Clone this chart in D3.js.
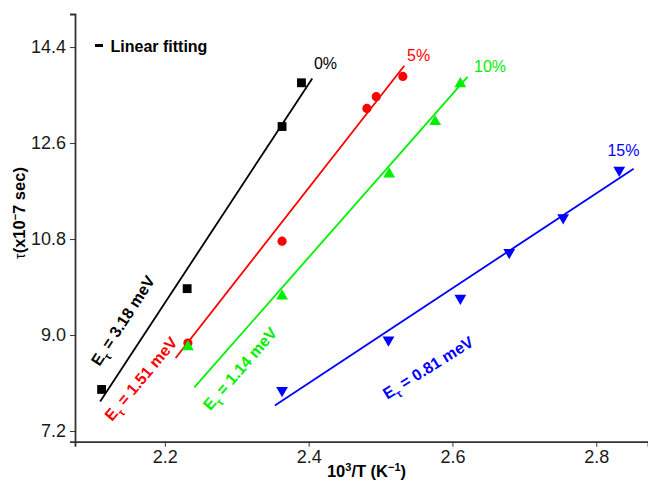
<!DOCTYPE html>
<html><head><meta charset="utf-8">
<script src="https://cdn.jsdelivr.net/npm/d3@7"></script>
<style>
body{margin:0;background:#fff;}
svg{display:block;font-family:"Liberation Sans",Arial,sans-serif;}
</style></head>
<body><svg id="c" width="648" height="489"></svg>
<script>
// ---- data ----
const seriesNames = ["0%", "5%", "10%", "15%"];
const seriesColors = ["#000000", "#ff0000", "#00f000", "#0000ff"];
const seriesShapes = ["square", "circle", "triangleUp", "triangleDown"];
const x0 = [2.112, 2.231, 2.363, 2.390];
const y0 = [7.98, 9.87, 12.91, 13.73];
const x5 = [2.232, 2.363, 2.481, 2.494, 2.531];
const y5 = [8.85, 10.76, 13.25, 13.47, 13.85];
const x10 = [2.232, 2.363, 2.512, 2.576, 2.611];
const y10 = [8.78, 9.73, 12.02, 13.00, 13.71];
const x15 = [2.363, 2.511, 2.611, 2.679, 2.754, 2.832];
const y15 = [7.96, 8.91, 9.69, 10.55, 11.20, 12.09];
// linear-fit end points
const fitX = [[2.110, 2.405], [2.215, 2.533], [2.241, 2.621], [2.353, 2.852]];
const fitY = [[7.755, 13.81], [8.57, 14.05], [8.02, 13.84], [7.68, 12.12]];
// series label anchors (data units)
const labelX = [2.4074, 2.5368, 2.6300, 2.8155];
const labelY = [13.98, 14.134, 13.935, 12.352];
// activation energy annotations
const energyText = ["3.18 meV", "1.51 meV", "1.14 meV", "0.81 meV"];
const energyX = [2.1415, 2.1666, 2.3043, 2.566];
const energyY = [9.27, 8.18, 8.37, 8.39];
const energyAngle = [-57, -50, -49, -32];
const xTicks = [2.2, 2.4, 2.6, 2.8];
const yTicks = [7.2, 9.0, 10.8, 12.6, 14.4];

const xsAll = [x0, x5, x10, x15], ysAll = [y0, y5, y10, y15];

const svg = d3.select("#c");
const x = d3.scaleLinear().domain([2.075, 2.872]).range([75, 648]);
const y = d3.scaleLinear().domain([7.0, 15.02]).range([441.7, 14]);

// axes
const axCol = "#333";
const gx = svg.append("g").attr("transform", "translate(0,441.7)")
  .call(d3.axisBottom(x).tickValues(xTicks).tickFormat(d3.format(".1f")).tickSizeOuter(0).tickSize(5).tickPadding(4));
const gy = svg.append("g").attr("transform", "translate(75,0)")
  .call(d3.axisLeft(y).tickValues(yTicks).tickFormat(d3.format(".1f")).tickSizeOuter(0).tickSize(5).tickPadding(4));
[gx, gy].forEach(g => {
  g.select(".domain").attr("stroke", axCol).attr("stroke-width", 1.8);
  g.selectAll(".tick line").attr("stroke", axCol).attr("stroke-width", 1);
  g.selectAll(".tick text").attr("fill", "#1a1a1a").style("font-size", "18px")
    .style("font-family", "Liberation Sans, Arial, sans-serif");
});

// fit lines
const line = d3.line().x(d => x(d[0])).y(d => y(d[1]));
fitX.forEach((fx, i) => {
  svg.append("path").datum(fx.map((v, j) => [v, fitY[i][j]]))
    .attr("d", line).attr("fill", "none").attr("stroke", seriesColors[i]).attr("stroke-width", 1.8);
});

// markers
const symMap = {square: d3.symbolSquare, circle: d3.symbolCircle, triangleUp: d3.symbolTriangle, triangleDown: d3.symbolTriangle};
const symSize = {square: 78, circle: 66, triangleUp: 60, triangleDown: 60};
xsAll.forEach((xs, i) => {
  const shp = seriesShapes[i];
  const sym = d3.symbol().type(symMap[shp]).size(symSize[shp]);
  svg.append("g").selectAll("path").data(xs.map((v, j) => [v, ysAll[i][j]])).join("path")
    .attr("d", sym)
    .attr("transform", d => `translate(${x(d[0])},${y(d[1])})` + (shp === "triangleDown" ? " rotate(180)" : ""))
    .attr("fill", seriesColors[i]);
});

// series labels
seriesNames.forEach((n, i) => {
  svg.append("text").attr("x", x(labelX[i])).attr("y", y(labelY[i]))
    .attr("fill", seriesColors[i]).style("font-size", "16px").text(n);
});

// energy annotations
energyText.forEach((t, i) => {
  const tx = svg.append("text")
    .attr("transform", `translate(${x(energyX[i])},${y(energyY[i])}) rotate(${energyAngle[i]})`)
    .attr("text-anchor", "middle").attr("dy", "0.35em")
    .attr("fill", seriesColors[i]).style("font-size", "16px").style("font-weight", "bold");
  tx.append("tspan").text("E");
  tx.append("tspan").attr("dy", "5").style("font-size", "11px").text("τ");
  tx.append("tspan").attr("dy", "-5").text(" = " + t);
});

// legend
svg.append("line").attr("x1", 95).attr("x2", 103).attr("y1", 45.5).attr("y2", 45.5)
  .attr("stroke", "#000").attr("stroke-width", 3);
svg.append("text").attr("x", 110.5).attr("y", 52).style("font-size", "16px").style("font-weight", "bold")
  .attr("fill", "#000").text("Linear fitting");

// axis titles
const xt = svg.append("text").attr("x", 366.5).attr("y", 477).attr("text-anchor", "middle")
  .style("font-size", "16.5px").style("font-weight", "bold").attr("fill", "#000");
xt.append("tspan").text("10");
xt.append("tspan").attr("dy", "-6").style("font-size", "11px").text("3");
xt.append("tspan").attr("dy", "6").text("/T (K");
xt.append("tspan").attr("dy", "-6").style("font-size", "11px").text("−1");
xt.append("tspan").attr("dy", "6").text(")");

const yt = svg.append("text").attr("transform", "translate(25,213) rotate(-90)").attr("text-anchor", "middle")
  .style("font-size", "16.5px").style("font-weight", "bold").attr("fill", "#000");
yt.append("tspan").style("font-weight", "normal").style("font-size", "14px").text("τ");
yt.append("tspan").text("(x10");
yt.append("tspan").attr("dy", "-6").style("font-size", "11px").text("−");
yt.append("tspan").attr("dy", "6").text("7 sec)");
</script></body></html>
